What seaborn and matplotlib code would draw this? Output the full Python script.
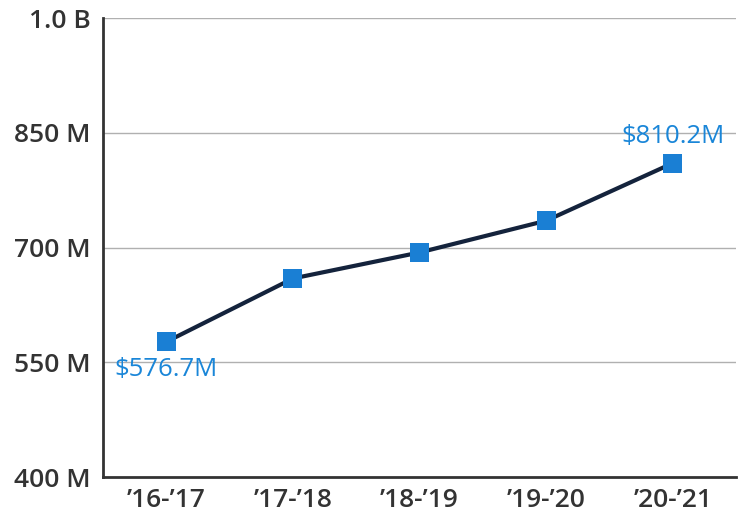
import pandas as pd
import matplotlib
matplotlib.use("Agg")
import matplotlib.pyplot as plt
import seaborn as sns

# Data
years = ["\u201916-\u201917", "\u201917-\u201918", "\u201918-\u201919", "\u201919-\u201920", "\u201920-\u201921"]
revenue_m = [576.7, 659.5, 693.5, 735.0, 810.2]
y_ticks = [400, 550, 700, 850, 1000]
y_tick_labels = ["400 M", "550 M", "700 M", "850 M", "1.0 B"]

df = pd.DataFrame({"x": range(len(years)), "revenue": revenue_m})

sns.set_style("white")
plt.rcParams["font.family"] = ["Open Sans", "DejaVu Sans"]

fig = plt.figure(figsize=(7.49, 5.12), dpi=100)
ax = fig.add_axes([103 / 749, 35 / 512, 633 / 749, 459 / 512])

sns.lineplot(data=df, x="x", y="revenue", ax=ax, color="#14233c", linewidth=3, zorder=3)
sns.scatterplot(data=df, x="x", y="revenue", ax=ax, marker="s", s=190, color="#1a7fd4",
                edgecolor="none", zorder=4)

ax.set_xlim(-0.5, 4.5)
ax.set_ylim(400, 1000)
ax.set_yticks(y_ticks)
ax.set_yticklabels(y_tick_labels)
ax.set_xticks(range(len(years)))
ax.set_xticklabels(years)
ax.set_xlabel("")
ax.set_ylabel("")

for y in y_ticks[1:]:
    ax.axhline(y, color="#b0b0b0", linewidth=1, zorder=1)

for s in ["top", "right"]:
    ax.spines[s].set_visible(False)
for s in ["left", "bottom"]:
    ax.spines[s].set_color("#333333")
    ax.spines[s].set_linewidth(2)

ax.tick_params(axis="both", length=0, labelsize=19, labelcolor="#333333")
ax.tick_params(axis="y", pad=9)
ax.tick_params(axis="x", pad=8)
for lab in ax.get_xticklabels() + ax.get_yticklabels():
    lab.set_fontweight("semibold")

# First and last value labels
ax.annotate("$576.7M", (0, revenue_m[0]), xytext=(0, -20), textcoords="offset points",
            ha="center", va="center", fontsize=18.5, color="#1a86d8")
ax.annotate("$810.2M", (4, revenue_m[-1]), xytext=(0, 19), textcoords="offset points",
            ha="center", va="center", fontsize=18.5, color="#1a86d8")

plt.savefig("out.png", dpi=100)
plt.close()
